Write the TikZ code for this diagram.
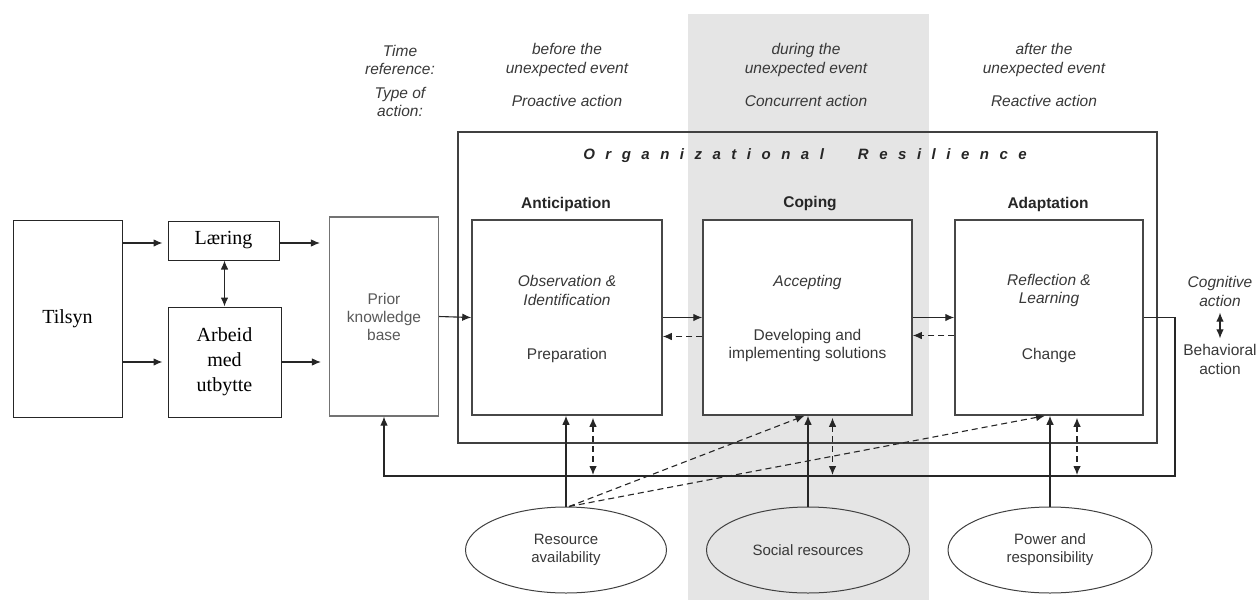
\documentclass[tikz,border=0pt]{standalone}
\usepackage{fontspec}
\setmainfont{Liberation Sans}
\newfontfamily\tnr{Liberation Serif}
\usetikzlibrary{arrows.meta,shapes.geometric,calc}
\definecolor{txt}{HTML}{383838}
\definecolor{band}{HTML}{E5E5E5}
\begin{document}
\begin{tikzpicture}[x=1pt,y=-1pt,
  serifbox/.style={draw=black!85, line width=1pt, font=\tnr\fontsize{20}{25}\selectfont, align=center, inner sep=0pt},
  priorbox/.style={draw=black!55, line width=1.1pt, font=\fontsize{15.5}{18}\selectfont, text=black!65, align=center, inner sep=0pt},
  phase/.style={draw=black!72, line width=1.5pt, fill=white, inner sep=0pt},
  oval/.style={ellipse, draw=black!75, line width=1pt, inner sep=0pt, minimum height=86pt, font=\fontsize{15}{18}\selectfont, text=txt, align=center},
  lbl/.style={font=\fontsize{15.5}{18.5}\selectfont, text=txt, align=center, inner sep=0pt},
  ilbl/.style={lbl, font=\itshape\fontsize{15.5}{18.5}\selectfont},
  head/.style={font=\bfseries\fontsize{15.5}{18}\selectfont, text=black!85, inner sep=0pt},
  conn/.style={draw=black!85, line width=1.1pt},
  arr/.style={conn, -{Latex[length=9pt,width=7.5pt]}},
  darr/.style={conn, {Latex[length=9pt,width=7.5pt]}-{Latex[length=9pt,width=7.5pt]}},
  dsh/.style={dash pattern=on 6pt off 4pt}
]
\useasboundingbox (0,0) rectangle (1258,600);
% shaded band
\fill[band] (688,14) rectangle (929,600);

% header texts
\node[ilbl] (timeref) at (400,60) {Time\\reference:};
\node[ilbl] (typeact) at (400,102) {Type of\\action:};
\node[ilbl] (befT) at (567,60) {before the\\unexpected event};
\node[ilbl] (befA) at (567,101) {Proactive action};
\node[ilbl] (durT) at (806,60) {during the\\unexpected event};
\node[ilbl] (durA) at (806,101) {Concurrent action};
\node[ilbl] (aftT) at (1044,60) {after the\\unexpected event};
\node[ilbl] (aftA) at (1044,101) {Reactive action};

% organizational resilience box
\node[draw=black!75, line width=1.3pt, minimum width=699pt, minimum height=311pt, inner sep=0pt] (OR) at (807.5,287.5) {};
\node[font=\bfseries\itshape\fontsize{15}{18}\selectfont, text=black!85, inner sep=0pt] (ORt) at (805,156)
  {\spaceskip=10.5pt\relax O r g a n i z a t i o n a l\hspace{34pt}R e s i l i e n c e};

% left boxes
\node[serifbox, minimum width=109pt, minimum height=197pt] (Tilsyn) at (67.5,318.5) {Tilsyn};
\node[serifbox, minimum width=111pt, minimum height=39pt] (Laering) at (223.5,240.5) {Læring};
\node[serifbox, minimum width=113pt, minimum height=110pt] (Arbeid) at (224.5,362) {Arbeid\\med\\utbytte};
\node[priorbox, minimum width=109pt, minimum height=199pt] (Prior) at (384,316.5) {Prior\\knowledge\\base};

% phase boxes
\node[phase, minimum width=190pt, minimum height=195pt] (Ant) at (567,317.5) {};
\node[phase, minimum width=209pt, minimum height=195pt] (Cop) at (807.5,317.5) {};
\node[phase, minimum width=188pt, minimum height=195pt] (Ada) at (1049,317.5) {};
\node[head] (AntH) at (566,204) {Anticipation};
\node[head] (CopH) at (810,204) {Coping};
\node[head] (AdaH) at (1048,204) {Adaptation};
\node[ilbl] (AntI) at (567,290.5) {Observation \&\\Identification};
\node[lbl] (AntB) at (567,355) {Preparation};
\node[ilbl] (CopI) at (807.5,282) {Accepting};
\node[lbl] (CopB) at (807.5,345.5) {Developing and\\implementing solutions};
\node[ilbl] (AdaI) at (1049,290.5) {Reflection \&\\Learning};
\node[lbl] (AdaB) at (1049,355) {Change};

% cognitive / behavioral
\node[ilbl] (cog) at (1220,291.5) {Cognitive\\action};
\node[lbl] (beh) at (1220,359.5) {Behavioral\\action};
\draw[darr] ([yshift=-6pt]cog.south) -- ([yshift=6pt]beh.north);

% ellipses
\node[oval, minimum width=201pt] (Res) at (566,550) {Resource\\availability};
\node[oval, minimum width=203pt] (Soc) at (808,550) {Social resources};
\node[oval, minimum width=204pt] (Pow) at (1050,550) {Power and\\responsibility};

% left arrows
\draw[arr, shorten >=5pt] ([yshift=-2.5pt]Tilsyn.east |- Laering) -- ([yshift=-2.5pt]Laering.west);
\draw[arr, shorten >=5pt] (Tilsyn.east |- Arbeid) -- (Arbeid.west);
\draw[arr, shorten >=9pt] ([yshift=-2.5pt]Laering.east) -- ([yshift=-2.5pt]Prior.west |- Laering);
\draw[arr, shorten >=8pt] (Arbeid.east) -- (Prior.west |- Arbeid);
\draw[darr] ([xshift=1pt]Laering.south) -- ([xshift=0pt]Arbeid.north);

% main flow
\draw[arr] (Prior.east) -- (Ant.west);
\draw[arr] (Ant.east) -- (Cop.west);
\draw[arr, dsh] ([yshift=-19pt]Cop.west) -- ([yshift=-19pt]Ant.east);
\draw[arr] (Cop.east) -- (Ada.west);
\draw[arr, dsh] ([yshift=-18pt]Ada.west) -- ([yshift=-18pt]Cop.east);

% feedback loop
\coordinate (fbR) at (1175,476);
\draw[arr] (Ada.east) -| (fbR) -- (fbR -| Prior.south) -- (Prior.south);

% resource arrows
\draw[arr] (Res.north) -- (Res.north |- Ant.south);
\draw[darr, dsh] ([xshift=26pt,yshift=-2pt]Ant.south) -- ([xshift=26pt,yshift=1pt]Ant.south |- fbR);
\draw[arr] (Soc.north) -- (Soc.north |- Cop.south);
\draw[darr, dsh] ([xshift=25pt,yshift=-2pt]Cop.south) -- ([xshift=25pt,yshift=1pt]Cop.south |- fbR);
\draw[arr] (Pow.north) -- (Pow.north |- Ada.south);
\draw[darr, dsh] ([xshift=28pt,yshift=-2pt]Ada.south) -- ([xshift=28pt,yshift=1pt]Ada.south |- fbR);
\draw[arr, dsh] ([xshift=3pt]Res.north) -- ([xshift=-3pt]Cop.south);
\draw[arr, dsh] ([xshift=3pt]Res.north) -- ([xshift=-4pt]Ada.south);
\end{tikzpicture}
\end{document}
